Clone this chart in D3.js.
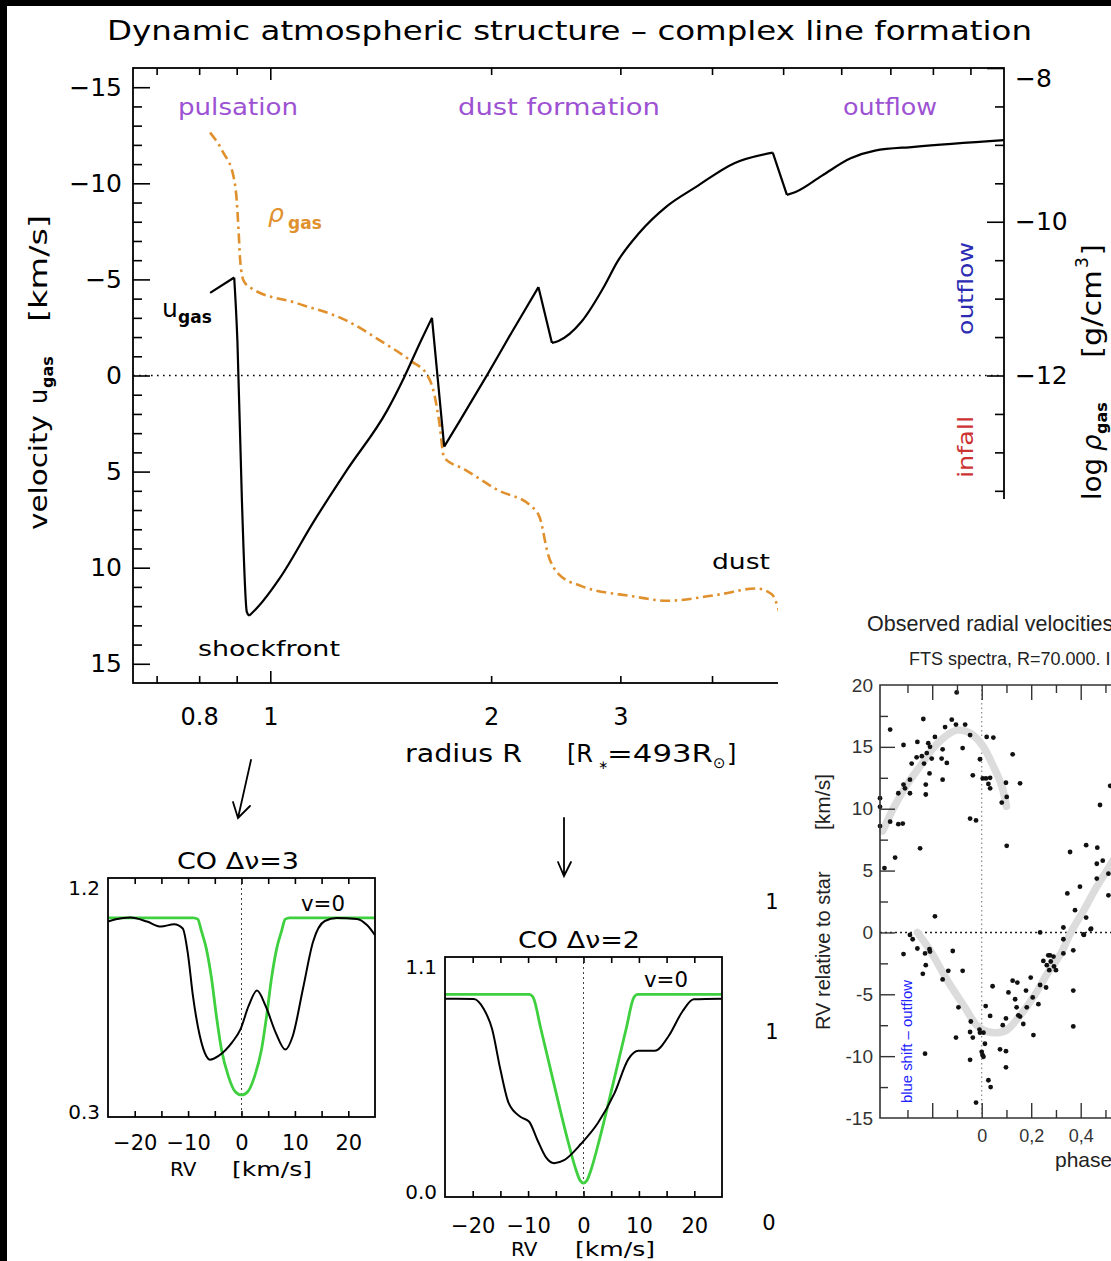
<!DOCTYPE html>
<html>
<head>
<meta charset="utf-8">
<script src="https://cdn.jsdelivr.net/npm/d3@7/dist/d3.min.js"></script>
<style>
  body { margin: 0; background: #fff; }
  svg { display: block; }
</style>
</head>
<body>
<div id="viz"></div>
<script>
// ---------- data ----------
// gas velocity u_gas [km/s] against radius R [R*]
const uGas = [
  [0.828, -4.3], [0.893, -5.1], [0.902, -1.8], [0.915, 6.6], [0.929, 12.3], [0.936, 12.5],
  [0.959, 12.1], [1.032, 10.5], [1.146, 7.6], [1.273, 4.9], [1.444, 1.8], [1.522, 0.1],
  [1.604, -1.8], [1.661, -3.0], [1.726, 3.7], [1.81, 2.4], [1.98, -0.1], [2.13, -2.2],
  [2.32, -4.6], [2.42, -1.7], [2.47, -1.8], [2.655, -2.8], [2.857, -4.7], [2.97, -5.9],
  [3.18, -7.4], [3.47, -8.8], [3.8, -9.8], [4.29, -11.05], [4.84, -11.6], [5.06, -9.4],
  [5.2, -9.55], [5.65, -10.4], [6.18, -11.3], [6.67, -11.7], [7.54, -11.9], [10, -12.25]
];
// log gas density [g/cm^3] against radius R
const rhoGas = [
  [0.828, -8.84], [0.863, -9.10], [0.891, -9.41], [0.900, -9.72], [0.905, -10.09], [0.910, -10.51],
  [0.920, -10.77], [0.944, -10.87], [1.088, -11.06], [1.273, -11.29], [1.414, -11.55], [1.554, -11.81],
  [1.638, -12.0], [1.672, -12.23], [1.699, -12.6], [1.726, -13.07], [1.839, -13.22], [2.042, -13.49],
  [2.268, -13.70], [2.33, -13.85], [2.39, -14.32], [2.47, -14.58], [2.655, -14.74], [3.11, -14.87],
  [3.47, -14.93], [4.08, -14.85], [4.6, -14.77], [4.83, -14.85], [4.95, -15.1]
];
const radiusLabels = [0.8, 1, 2, 3];
const radiusMinor = [0.7, 0.8, 0.9, 2, 3, 4, 5, 6, 7, 8, 9];
const velocityLabels = [-15, -10, -5, 0, 5, 10, 15];
const rhoLabels = [-8, -10, -12];
const rhoMajor = [-8, -10, -12, -14, -16];
const rhoMinor = [-8.5, -9, -9.5, -10.5, -11, -11.5, -12.5, -13, -13.5, -14.5, -15, -15.5];

// CO line profiles, RV [km/s] against F/Fcont
const co3Obs = [
  [-25, 1.036], [-22.5, 1.048], [-20.8, 1.051], [-17.7, 1.036], [-15.1, 1.017], [-12.6, 1.026],
  [-11, 1.01], [-10, 0.909], [-9.1, 0.757], [-7.8, 0.605], [-6.6, 0.53], [-5.9, 0.516],
  [-4.3, 0.53], [-1.8, 0.58], [-0.2, 0.63], [1.35, 0.719], [2.9, 0.776], [4.5, 0.719],
  [6.4, 0.618], [8.2, 0.554], [9.6, 0.605], [11.5, 0.782], [13.4, 0.96], [15.6, 1.038],
  [17.8, 1.049], [21.6, 1.046], [23.5, 1.023], [25, 0.985]
];
const co3Model = [
  [-25, 1.05], [-9, 1.05], [-8.2, 1.045], [-7.5, 1.0], [-6.6, 0.935], [-5.6, 0.82], [-4.7, 0.68],
  [-3.75, 0.554], [-2.45, 0.453], [-1.2, 0.396], [0, 0.383], [1.2, 0.396], [2.45, 0.453],
  [3.75, 0.554], [4.7, 0.68], [5.6, 0.82], [6.6, 0.935], [7.5, 1.0], [8.2, 1.045], [9, 1.05], [25, 1.05]
];
const co2Obs = [
  [-25, 0.909], [-19.8, 0.908], [-18, 0.862], [-16.5, 0.77], [-15, 0.584], [-13.5, 0.43],
  [-11.4, 0.368], [-9.8, 0.345], [-8.3, 0.26], [-6.8, 0.183], [-5.3, 0.155], [-3.5, 0.169],
  [-0.4, 0.245], [2.6, 0.339], [5.6, 0.476], [8.1, 0.632], [9.9, 0.67], [12.9, 0.67],
  [15.4, 0.739], [17.8, 0.848], [19.9, 0.906], [25, 0.909]
];
const co2Model = [
  [-25, 0.929], [-9.8, 0.929], [-9.1, 0.915], [-7.7, 0.771], [-5.3, 0.515], [-2.85, 0.261],
  [-1.35, 0.124], [-0.6, 0.075], [0, 0.064], [0.6, 0.075], [1.35, 0.124], [2.85, 0.261],
  [5.3, 0.515], [7.7, 0.771], [9.1, 0.915], [9.8, 0.929], [25, 0.929]
];
const rvLabels = [-20, -10, 0, 10, 20];
const rvTicks = [-20, -15, -10, -5, 0, 5, 10, 15, 20];

// observed radial velocities: [phase, RV relative to star km/s]
const rvObserved = [
  [-0.101, 19.4], [-0.370, 16.4], [-0.236, 17.25], [-0.121, 17.2], [-0.104, 16.8], [-0.067, 16.8],
  [-0.148, 16.6], [-0.189, 15.8], [-0.260, 15.4], [-0.216, 15.3], [-0.316, 15.15], [-0.209, 15.0],
  [-0.158, 14.8], [-0.077, 14.9], [-0.047, 15.95], [0.020, 15.8], [0.047, 15.75], [-0.222, 14.5],
  [-0.242, 14.25], [-0.263, 14.15], [-0.202, 14.05], [-0.283, 13.65], [-0.233, 13.65], [-0.162, 14.05],
  [-0.141, 13.7], [-0.007, 14.0], [0.125, 14.4], [-0.211, 12.85], [-0.158, 12.35], [-0.290, 12.35],
  [-0.316, 11.95], [-0.036, 12.7], [0.004, 12.45], [0.017, 12.45], [0.034, 12.5], [0.027, 12.0],
  [0.034, 11.65], [0.098, 12.1], [0.155, 12.05], [-0.226, 11.95], [-0.310, 11.65], [-0.337, 11.25],
  [-0.290, 11.25], [-0.226, 11.15], [0.081, 10.5], [0.101, 10.95], [-0.411, 10.85], [-0.411, 10.15],
  [-0.370, 8.95], [-0.337, 8.75], [-0.319, 8.8], [-0.411, 8.6], [-0.047, 9.2], [-0.023, 9.05],
  [-0.249, 6.8], [0.101, 7.0], [-0.350, 6.05], [-0.393, 5.2], [-0.189, 1.3],
  [0.519, 11.85], [0.478, 10.3], [0.357, 6.5], [0.422, 7.05], [0.467, 6.85], [0.489, 5.8],
  [0.465, 5.55], [0.465, 4.35], [0.512, 4.75], [0.397, 3.7], [0.346, 3.15], [0.512, 3.0], [0.377, 1.8],
  [0.422, 1.2], [0.330, 0.4], [0.442, 0.3], [0.413, -0.2], [0.236, 0.0], [0.330, -0.55],
  [0.370, -1.45], [0.330, -1.7], [0.276, -1.85], [-0.117, -1.5],
  [-0.316, -1.75], [-0.290, -0.2], [-0.279, -0.55], [-0.260, -1.3], [-0.229, -1.7], [-0.211, -1.35],
  [-0.209, -1.55], [-0.226, -2.65], [-0.238, -3.35], [-0.158, -3.8], [-0.135, -3.1], [-0.077, -3.1],
  [-0.094, -6.05], [-0.104, -8.5], [-0.044, -7.2], [-0.047, -8.05], [-0.036, -8.5], [-0.009, -7.85],
  [-0.007, -8.1], [0.007, -8.1], [0.016, -5.95], [0.013, -9.0], [0.0, -9.65], [0.003, -9.9],
  [0.007, -10.05], [0.027, -11.95], [0.036, -12.5], [-0.023, -13.75], [-0.047, -10.3], [-0.229, -9.8],
  [0.044, -4.35], [0.034, -6.75], [0.085, -7.5], [0.098, -6.95], [0.074, -9.45], [0.098, -9.6],
  [0.098, -10.9], [0.108, -4.85], [0.125, -3.9], [0.144, -4.05], [0.135, -5.4], [0.141, -6.05],
  [0.148, -6.7], [0.155, -6.8], [0.168, -7.4], [0.179, -4.7], [0.182, -6.05], [0.198, -3.65],
  [0.206, -5.25], [0.209, -8.3], [0.229, -5.8], [0.236, -4.25], [0.260, -4.45], [0.249, -2.3],
  [0.263, -2.65], [0.269, -1.85], [0.279, -2.35], [0.290, -1.95], [0.292, -2.75], [0.300, -3.05],
  [0.273, -3.05], [0.370, -4.7], [0.370, -7.6], [0.411, -0.15], [0.440, 0.25]
];
// grey fitted curves
const rvFitUpper = [
  [-0.40, 8.2], [-0.35, 10.3], [-0.30, 12.0], [-0.25, 13.4], [-0.20, 14.8], [-0.15, 15.8],
  [-0.10, 16.35], [-0.05, 16.15], [0.0, 15.2], [0.05, 13.3], [0.08, 11.9], [0.10, 10.2]
];
const rvFitLower = [
  [-0.26, 0.0], [-0.21, -1.4], [-0.14, -3.85], [-0.07, -6.0], [-0.02, -7.5], [0.02, -8.0],
  [0.06, -8.1], [0.10, -7.9], [0.155, -6.7], [0.21, -5.2], [0.26, -3.5], [0.32, -1.7],
  [0.36, 0.0], [0.41, 1.7], [0.465, 3.7], [0.52, 5.45], [0.56, 6.8]
];
const phaseLabels = [0, 0.2, 0.4];
const phaseMajor = [-0.2, 0, 0.2, 0.4, 0.6];
const phaseMinor = [-0.3, -0.1, 0.1, 0.3, 0.5];
const rvAxisLabels = [20, 15, 10, 5, 0, -5, -10, -15];
const rvAxisMajor = [15, 10, 5, 0, -5, -10];
const rvAxisMinor = [17.5, 12.5, 7.5, 2.5, -2.5, -7.5, -12.5];

// ---------- setup ----------
const width = 1111, height = 1261;
const FONT = "'DejaVu Sans', sans-serif";
const ARIAL = "'Liberation Sans', Arial, sans-serif";
const PURPLE = "#9d52d3", ORANGE = "#e0902c", GREEN = "#3fd03f";
const minus = d => d < 0 ? "\u2212" + (-d) : String(d);

const svg = d3.select("#viz").append("svg")
  .attr("width", width)
  .attr("height", height)
  .attr("viewBox", `0 0 ${width} ${height}`);
svg.append("rect").attr("width", width).attr("height", height).attr("fill", "#fff");

function label(g, s, x, y, o = {}) {
  const t = g.append("text")
    .attr("x", x).attr("y", y)
    .attr("font-family", o.family || FONT)
    .attr("font-size", o.size || 24)
    .attr("fill", o.fill || "#000")
    .text(s);
  if (o.anchor) t.attr("text-anchor", o.anchor);
  if (o.len) t.attr("textLength", o.len).attr("lengthAdjust", "spacingAndGlyphs");
  if (o.weight) t.attr("font-weight", o.weight);
  if (o.italic) t.attr("font-style", "italic");
  if (o.rotate) t.attr("transform", `rotate(${o.rotate},${x},${y})`);
  return t;
}

function tickMarks(g, axisFn, scale, values, size, transform, color = "#000", w = 1.6) {
  const sel = g.append("g").attr("transform", transform)
    .call(axisFn(scale).tickValues(values).tickSize(size).tickFormat(""));
  sel.select(".domain").remove();
  sel.selectAll("line").attr("stroke", color).attr("stroke-width", w);
  return sel;
}

function tickLabels(g, axisFn, scale, values, pad, fmt, transform, family, size) {
  const sel = g.append("g").attr("transform", transform)
    .call(axisFn(scale).tickValues(values).tickSize(0).tickPadding(pad).tickFormat(fmt));
  sel.select(".domain").remove();
  sel.selectAll("line").remove();
  sel.attr("font-family", family).attr("font-size", size);
  sel.selectAll("text").attr("fill", "#000");
  return sel;
}

// split a curve at its turning points so each branch can be smoothed
// while the shock peaks stay sharp
function branches(data) {
  const out = [];
  let cur = [data[0]];
  for (let i = 1; i < data.length; i++) {
    cur.push(data[i]);
    const next = data[i + 1];
    if (next && (data[i][1] - data[i - 1][1]) * (next[1] - data[i][1]) < 0) {
      out.push(cur);
      cur = [data[i]];
    }
  }
  out.push(cur);
  return out;
}

// ---------- main chart: velocity and density against radius ----------
const main = svg.append("g");
const box = { l: 133, r: 1004, t: 68, b: 683 };
const xR = d3.scaleLog().domain([0.65, 10]).range([box.l, box.r]);
const yU = d3.scaleLinear().domain([-16, 16]).range([box.t, box.b]);
const yRho = d3.scaleLinear().domain([-8, -16]).range([box.t, box.b]);

svg.append("clipPath").attr("id", "clipMain").append("rect")
  .attr("x", box.l).attr("y", box.t)
  .attr("width", box.r - box.l).attr("height", box.b - box.t);

main.append("line")
  .attr("x1", xR(0.65)).attr("x2", xR(10))
  .attr("y1", yU(0)).attr("y2", yU(0))
  .attr("stroke", "#000").attr("stroke-width", 1.6)
  .attr("stroke-dasharray", "1.6,4.4");

main.append("path")
  .datum(rhoGas)
  .attr("clip-path", "url(#clipMain)")
  .attr("d", d3.line().x(d => xR(d[0])).y(d => yRho(d[1])).curve(d3.curveMonotoneX))
  .attr("fill", "none")
  .attr("stroke", ORANGE)
  .attr("stroke-width", 2.6)
  .attr("stroke-dasharray", "10,4.5,2.5,4.5");

const uLine = d3.line().x(d => xR(d[0])).y(d => yU(d[1])).curve(d3.curveMonotoneX);
main.append("path")
  .datum(branches(uGas))
  .attr("clip-path", "url(#clipMain)")
  .attr("d", segs => segs.map(s => uLine(s)).join(""))
  .attr("fill", "none")
  .attr("stroke", "#000")
  .attr("stroke-width", 2.2)
  .attr("stroke-linejoin", "round");

main.append("rect")
  .attr("x", box.l).attr("y", box.t)
  .attr("width", box.r - box.l).attr("height", box.b - box.t)
  .attr("fill", "none").attr("stroke", "#000").attr("stroke-width", 1.8);

// ticks pointing into the frame
tickMarks(main, d3.axisLeft, yU, velocityLabels, -17, `translate(${box.l},0)`);
tickMarks(main, d3.axisLeft, yU, d3.range(-15, 16).filter(v => v % 5 !== 0), -9, `translate(${box.l},0)`);
tickMarks(main, d3.axisRight, yRho, rhoMajor, -17, `translate(${box.r},0)`);
tickMarks(main, d3.axisRight, yRho, rhoMinor, -9, `translate(${box.r},0)`);
tickMarks(main, d3.axisTop, xR, [1], -12, `translate(0,${box.t})`);
tickMarks(main, d3.axisTop, xR, radiusMinor, -7, `translate(0,${box.t})`);
tickMarks(main, d3.axisBottom, xR, [1], -12, `translate(0,${box.b})`);
tickMarks(main, d3.axisBottom, xR, radiusMinor, -7, `translate(0,${box.b})`);

tickLabels(main, d3.axisLeft, yU, velocityLabels, 11, minus, `translate(${box.l},0)`, FONT, 25);
const rhoAxis = tickLabels(main, d3.axisRight, yRho, rhoLabels, 11, minus, `translate(${box.r},0)`, FONT, 25);
rhoAxis.selectAll("text").filter(d => d === -8).attr("y", 10);
tickLabels(main, d3.axisBottom, xR, radiusLabels, 25, d => String(d), `translate(0,${box.b})`, FONT, 24);

// title and annotations
label(svg, "Dynamic atmospheric structure \u2013 complex line formation", 107, 40, { size: 27, len: 925 });
label(main, "pulsation", 178, 115, { size: 23, len: 120, fill: PURPLE });
label(main, "dust formation", 458, 115, { size: 23, len: 202, fill: PURPLE });
label(main, "outflow", 843, 115, { size: 23, len: 94, fill: PURPLE });
label(main, "\u03c1", 268, 222, { size: 25, italic: true, fill: ORANGE });
label(main, "gas", 288, 229, { size: 17, weight: "bold", fill: ORANGE });
label(main, "u", 162, 317, { size: 25 });
label(main, "gas", 178, 323, { size: 17, weight: "bold" });
label(main, "shockfront", 198, 656, { size: 22, len: 142 });
label(main, "dust", 712, 569, { size: 22, len: 58 });
label(main, "outflow", 973, 335, { size: 22, len: 93, fill: "#2b2bb3", rotate: -90 });
label(main, "infall", 973, 478, { size: 22, len: 62, fill: "#cc3333", rotate: -90 });

// left axis title
const yTitle = main.append("g").attr("transform", "translate(47,530) rotate(-90)");
label(yTitle, "velocity", 0, 0, { size: 24, len: 115 });
label(yTitle, "u", 126, 0, { size: 24 });
label(yTitle, "gas", 142, 6, { size: 16, weight: "bold" });
label(yTitle, "[km/s]", 208, 0, { size: 24, len: 107 });

// right axis title
const rTitle = main.append("g").attr("transform", "translate(1101,508) rotate(-90)");
label(rTitle, "log", 8, 0, { size: 26, len: 42 });
label(rTitle, "\u03c1", 57, 0, { size: 26, italic: true });
label(rTitle, "gas", 74, 6, { size: 16, weight: "bold" });
label(rTitle, "[g/cm", 150, 0, { size: 27, len: 88 });
label(rTitle, "3", 240, -13, { size: 17 });
label(rTitle, "]", 253, 0, { size: 27 });

// x axis title
label(main, "radius R", 405, 762, { size: 24, len: 117 });
label(main, "[R", 567, 762, { size: 24 });
label(main, "\u2217", 598, 769, { size: 12 });
label(main, "=493R", 607, 762, { size: 24, len: 106 });
label(main, "\u2299", 713, 768, { size: 15 });
label(main, "]", 727, 762, { size: 24 });

// arrows from the radius axis to the line profiles
const arrows = svg.append("g").attr("stroke", "#000").attr("stroke-width", 1.8)
  .attr("fill", "none").attr("stroke-linecap", "round");
arrows.append("path").attr("d", "M251,760 L238,818 M233,802 L238,818 L250,806");
arrows.append("path").attr("d", "M564,818 L564,876 M558,862 L564,876 L571,862");

// ---------- CO line profile panels ----------
function coPanel(o) {
  const g = svg.append("g");
  const x = d3.scaleLinear().domain([-25, 25]).range([o.l, o.r]);
  const y = d3.scaleLinear().domain(o.fluxRange).range([o.b, o.t]);
  const clipId = "clip" + o.id;
  svg.append("clipPath").attr("id", clipId).append("rect")
    .attr("x", o.l).attr("y", o.t).attr("width", o.r - o.l).attr("height", o.b - o.t);

  g.append("line")
    .attr("x1", x(0)).attr("x2", x(0)).attr("y1", o.t).attr("y2", o.b)
    .attr("stroke", "#444").attr("stroke-width", 1).attr("stroke-dasharray", "2,3");

  const line = d3.line().x(d => x(d[0])).y(d => y(d[1])).curve(d3.curveMonotoneX);
  g.append("path").datum(o.model).attr("d", line).attr("clip-path", `url(#${clipId})`)
    .attr("fill", "none").attr("stroke", GREEN).attr("stroke-width", 2.8);
  g.append("path").datum(o.obs).attr("d", line).attr("clip-path", `url(#${clipId})`)
    .attr("fill", "none").attr("stroke", "#000").attr("stroke-width", 2);

  g.append("rect")
    .attr("x", o.l).attr("y", o.t).attr("width", o.r - o.l).attr("height", o.b - o.t)
    .attr("fill", "none").attr("stroke", "#000").attr("stroke-width", 1.8);

  tickMarks(g, d3.axisBottom, x, rvTicks, -6, `translate(0,${o.b})`);
  tickMarks(g, d3.axisTop, x, rvTicks, -6, `translate(0,${o.t})`);
  tickLabels(g, d3.axisBottom, x, rvLabels, o.labelPad, minus, `translate(0,${o.b})`, FONT, 21);

  label(g, o.fluxRange[1].toFixed(1), o.l - 8, o.t + 17, { anchor: "end", size: 20 });
  label(g, o.fluxRange[0].toFixed(1), o.l - 8, o.b + 2, { anchor: "end", size: 20 });
  label(g, o.title, o.titleX, o.t - 9, { size: 23, len: 122 });
  label(g, "v=0", o.vx, o.vy, { size: 21, len: 44 });
  label(g, "RV", o.l + o.rvDx, o.b + 59, { size: 20 });
  label(g, "[km/s]", o.l + o.kmDx, o.b + 59, { size: 20, len: 80 });
}

coPanel({
  id: "A", l: 108, r: 375, t: 878, b: 1117, fluxRange: [0.3, 1.2],
  obs: co3Obs, model: co3Model, title: "CO  \u0394\u03bd=3", titleX: 177,
  vx: 301, vy: 911, labelPad: 18, rvDx: 62, kmDx: 124
});
coPanel({
  id: "B", l: 445, r: 722, t: 957, b: 1197, fluxRange: [0.0, 1.1],
  obs: co2Obs, model: co2Model, title: "CO  \u0394\u03bd=2", titleX: 518,
  vx: 644, vy: 987, labelPad: 21, rvDx: 66, kmDx: 130
});

// labels of a further panel hidden behind the inset
label(svg, "1", 772, 909, { anchor: "middle", size: 21 });
label(svg, "1", 772, 1039, { anchor: "middle", size: 21 });
label(svg, "0", 769, 1230, { anchor: "middle", size: 21 });

// ---------- inset: observed radial velocities ----------
svg.append("rect").attr("x", 778).attr("y", 499)
  .attr("width", width - 778).attr("height", height - 499).attr("fill", "#fff");

const sc = svg.append("g");
const xS = d3.scaleLinear().domain([-0.411, 0.6]).range([880, 1130.2]);
const yS = d3.scaleLinear().domain([-15, 20]).range([1118, 685]);

sc.append("line")
  .attr("x1", xS(-0.411)).attr("x2", xS(0.6)).attr("y1", yS(0)).attr("y2", yS(0))
  .attr("stroke", "#222").attr("stroke-width", 1.4).attr("stroke-dasharray", "2,3");
sc.append("line")
  .attr("x1", xS(0)).attr("x2", xS(0)).attr("y1", yS(20)).attr("y2", yS(-15))
  .attr("stroke", "#888").attr("stroke-width", 1.2).attr("stroke-dasharray", "1.5,3");

const fitLine = d3.line().x(d => xS(d[0])).y(d => yS(d[1])).curve(d3.curveCatmullRom);
[rvFitUpper, rvFitLower].forEach(fit => {
  sc.append("path").datum(fit).attr("d", fitLine)
    .attr("fill", "none").attr("stroke", "#dcdcdc")
    .attr("stroke-width", 7.5).attr("stroke-linecap", "round");
});

sc.selectAll("circle.obs")
  .data(rvObserved)
  .enter()
  .append("circle")
  .attr("class", "obs")
  .attr("cx", d => xS(d[0]))
  .attr("cy", d => yS(d[1]))
  .attr("r", 2.4)
  .attr("fill", "#111");

// frame (right side lies outside the picture)
sc.append("path")
  .attr("d", `M${xS(0.6)},${yS(20)} H${xS(-0.411)} V${yS(-15)} H${xS(0.6)}`)
  .attr("fill", "none").attr("stroke", "#333").attr("stroke-width", 1.6);

tickMarks(sc, d3.axisLeft, yS, rvAxisMajor, -15, `translate(${xS(-0.411)},0)`, "#333", 1.4);
tickMarks(sc, d3.axisLeft, yS, rvAxisMinor, -8, `translate(${xS(-0.411)},0)`, "#333", 1.4);
tickMarks(sc, d3.axisBottom, xS, phaseMajor, -15, `translate(0,${yS(-15)})`, "#333", 1.4);
tickMarks(sc, d3.axisBottom, xS, phaseMinor, -8, `translate(0,${yS(-15)})`, "#333", 1.4);
tickMarks(sc, d3.axisTop, xS, phaseMajor, -15, `translate(0,${yS(20)})`, "#333", 1.4);
tickMarks(sc, d3.axisTop, xS, phaseMinor, -8, `translate(0,${yS(20)})`, "#333", 1.4);

const scY = tickLabels(sc, d3.axisLeft, yS, rvAxisLabels, 7, d => String(d), `translate(${xS(-0.411)},0)`, ARIAL, 19);
scY.selectAll("text").attr("fill", "#333");
const scX = tickLabels(sc, d3.axisBottom, xS, phaseLabels, 11, d => String(d).replace(".", ","), `translate(0,${yS(-15)})`, ARIAL, 18);
scX.selectAll("text").attr("fill", "#333");

label(sc, "Observed radial velocities", 867, 631, { family: ARIAL, size: 21.5, fill: "#222" });
label(sc, "FTS spectra, R=70.000. I", 909, 665, { family: ARIAL, size: 18, fill: "#222" });
label(sc, "RV relative to star", 830, 1030, { family: ARIAL, size: 20, fill: "#222", rotate: -90 });
label(sc, "[km/s]", 830, 830, { family: ARIAL, size: 21, fill: "#222", rotate: -90 });
label(sc, "blue shift \u2013 outflow", 912, 1103, { family: ARIAL, size: 15, fill: "#2222ff", rotate: -90, len: 123 });
label(sc, "phase", 1055, 1167, { family: ARIAL, size: 21, fill: "#222" });

// ---------- black border of the slide ----------
svg.append("rect").attr("x", 0).attr("y", 0).attr("width", 7).attr("height", height).attr("fill", "#000");
svg.append("rect").attr("x", 0).attr("y", 0).attr("width", width).attr("height", 6).attr("fill", "#000");
</script>
</body>
</html>
